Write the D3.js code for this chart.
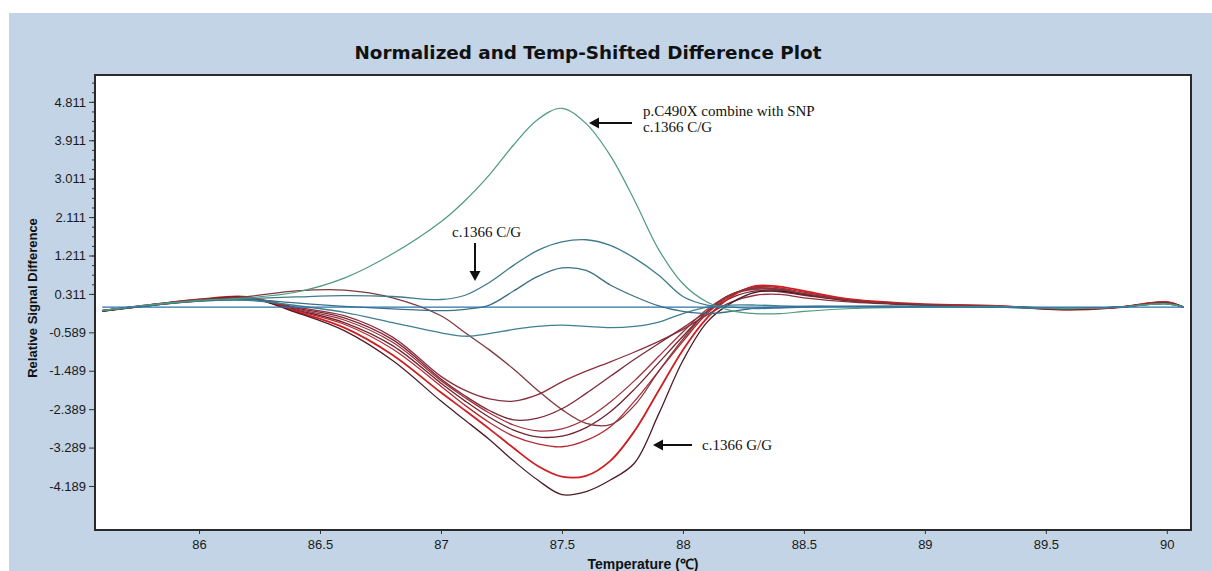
<!DOCTYPE html>
<html>

<head>
    <meta charset="UTF-8">
    <title>Normalized and Temp-Shifted Difference Plot</title>
    <script src="https://d3js.org/d3.v7.min.js"></script>
    <style>
        body { margin: 0; background: #fff; }
        svg { display: block; }
    </style>
</head>

<body>
    <svg id="chart"></svg>
    <script>
        // -------------data-------------
        var temps = [85.6, 85.8, 86.0, 86.2, 86.4, 86.6, 86.8, 87.0, 87.1, 87.2, 87.3, 87.4, 87.5, 87.6, 87.7,
            87.8, 87.9, 88.0, 88.1, 88.2, 88.3, 88.4, 88.5, 88.7, 89.0, 89.3, 89.6, 89.8, 90.0, 90.07];

        var reference = [0, 0, 0, 0, 0, 0, 0, 0, 0, 0, 0, 0, 0, 0, 0, 0, 0, 0, 0, 0, 0, 0, 0, 0, 0, 0, 0, 0, 0, 0];
        var snpCombined = [-0.08, 0.06, 0.16, 0.22, 0.35, 0.68, 1.25, 2.0, 2.5, 3.1, 3.8, 4.4, 4.66, 4.3, 3.55,
            2.5, 1.35, 0.55, 0.12, -0.08, -0.15, -0.15, -0.1, -0.03, 0.0, 0.02, -0.03, 0.0, 0.08, 0.0];
        var cgHigh = [-0.08, 0.05, 0.15, 0.2, 0.24, 0.27, 0.25, 0.18, 0.28, 0.58, 0.98, 1.33, 1.53, 1.58, 1.45,
            1.15, 0.75, 0.25, 0.05, 0.0, -0.03, -0.02, 0.0, 0.02, 0.02, 0.0, -0.03, 0.0, 0.08, 0.0];
        var cgLow = [-0.08, 0.05, 0.14, 0.18, 0.1, 0.02, -0.04, -0.08, -0.05, 0.05, 0.38, 0.72, 0.92, 0.86, 0.52,
            0.25, 0.03, -0.1, -0.15, -0.1, -0.02, 0.0, 0.02, 0.02, 0.02, 0.0, -0.03, 0.0, 0.08, 0.0];
        var cgNeg = [-0.08, 0.04, 0.14, 0.16, 0.04, -0.12, -0.36, -0.6, -0.68, -0.62, -0.52, -0.45, -0.42, -0.45, -0.48,
            -0.45, -0.35, -0.15, 0.0, 0.05, 0.05, 0.03, 0.02, 0.02, 0.02, 0.0, -0.03, 0.0, 0.08, 0.0];
        var crossing = [-0.08, 0.06, 0.18, 0.25, 0.38, 0.4, 0.22, -0.2, -0.6, -1.0, -1.45, -1.95, -2.4, -2.72, -2.75,
            -2.3, -1.5, -0.75, -0.1, 0.3, 0.45, 0.42, 0.32, 0.15, 0.06, 0.02, -0.04, 0.0, 0.1, 0.0];
        var gg1 = [-0.08, 0.05, 0.16, 0.22, 0.0, -0.2, -0.7, -1.62, -1.95, -2.15, -2.2, -2.05, -1.75, -1.5, -1.28,
            -1.05, -0.8, -0.52, -0.18, 0.12, 0.28, 0.3, 0.22, 0.12, 0.05, 0.02, -0.04, 0.0, 0.1, 0.0];
        var gg2 = [-0.09, 0.04, 0.15, 0.21, -0.02, -0.25, -0.76, -1.68, -2.08, -2.42, -2.64, -2.6, -2.38, -2.02, -1.62,
            -1.22, -0.85, -0.48, -0.1, 0.22, 0.38, 0.36, 0.28, 0.14, 0.06, 0.03, -0.05, -0.01, 0.12, 0.0];
        var gg3 = [-0.08, 0.05, 0.17, 0.23, -0.04, -0.3, -0.82, -1.72, -2.12, -2.48, -2.76, -2.9, -2.85, -2.62, -2.22,
            -1.72, -1.15, -0.58, -0.05, 0.3, 0.42, 0.4, 0.3, 0.15, 0.05, 0.02, -0.04, 0.0, 0.1, 0.0];
        var gg4 = [-0.1, 0.04, 0.16, 0.22, -0.06, -0.36, -0.9, -1.78, -2.2, -2.58, -2.88, -3.04, -3.02, -2.82, -2.45,
            -1.92, -1.3, -0.68, -0.1, 0.3, 0.45, 0.42, 0.32, 0.16, 0.06, 0.02, -0.05, 0.0, 0.12, 0.0];
        var gg5 = [-0.08, 0.06, 0.17, 0.22, -0.08, -0.4, -0.98, -1.85, -2.3, -2.7, -3.02, -3.2, -3.27, -3.12, -2.8,
            -2.2, -1.5, -0.8, -0.15, 0.28, 0.48, 0.45, 0.35, 0.17, 0.06, 0.03, -0.05, 0.0, 0.1, 0.0];
        var gg6 = [-0.08, 0.05, 0.18, 0.24, -0.1, -0.48, -1.12, -2.0, -2.42, -2.85, -3.3, -3.72, -3.97, -3.95, -3.6,
            -2.9, -1.95, -1.0, -0.25, 0.25, 0.5, 0.48, 0.38, 0.18, 0.07, 0.03, -0.06, 0.0, 0.12, 0.0];
        var gg7 = [-0.09, 0.05, 0.17, 0.23, -0.12, -0.55, -1.25, -2.2, -2.65, -3.1, -3.6, -4.05, -4.39, -4.32, -4.05,
            -3.65, -2.5, -1.25, -0.35, 0.1, 0.35, 0.38, 0.3, 0.15, 0.05, 0.02, -0.05, 0.0, 0.1, 0.0];

        var xTicks = [86, 86.5, 87, 87.5, 88, 88.5, 89, 89.5, 90];
        var yTickLabels = ["4.811", "3.911", "3.011", "2.111", "1.211", "0.311", "-0.589", "-1.489", "-2.389", "-3.289", "-4.189"];

        // draw order and colours
        var series = [
            { values: gg1, color: "#8c3040", width: 1.3 },
            { values: gg2, color: "#7a2a36", width: 1.3 },
            { values: gg3, color: "#a0303c", width: 1.3 },
            { values: gg4, color: "#6f2430", width: 1.3 },
            { values: gg5, color: "#b32a33", width: 1.3 },
            { values: gg6, color: "#cf1f22", width: 1.8 },
            { values: gg7, color: "#4d1c26", width: 1.3 },
            { values: crossing, color: "#7d3a3f", width: 1.3 },
            { values: cgNeg, color: "#3d7f93", width: 1.3 },
            { values: cgLow, color: "#3b6f86", width: 1.3 },
            { values: cgHigh, color: "#3f7a8e", width: 1.3 },
            { values: snpCombined, color: "#4e9a7c", width: 1.2 },
            { values: reference, color: "#2e72a6", width: 1.3 }
        ];

        // -------------layout-------------
        var W = 1212, H = 571;
        var plotL = 95, plotT = 75, plotR = 1191, plotB = 530;

        var svg = d3.select('#chart')
            .attr('width', W)
            .attr('height', H);

        svg.append('rect')
            .attr('x', 9).attr('y', 13)
            .attr('width', W - 9).attr('height', H - 13)
            .attr('fill', '#c2d4e6');

        svg.append('rect')
            .attr('x', plotL).attr('y', plotT)
            .attr('width', plotR - plotL).attr('height', plotB - plotT)
            .attr('fill', '#fff');

        var x = d3.scaleLinear().domain([85.57, 90.1]).range([plotL, plotR]);
        var y = d3.scaleLinear().domain([-5.22, 5.44]).range([plotB, plotT]);

        svg.append('clipPath').attr('id', 'clip')
            .append('rect')
            .attr('x', plotL).attr('y', plotT)
            .attr('width', plotR - plotL).attr('height', plotB - plotT);

        // -------------curves-------------
        var line = d3.line()
            .x(function (d, i) { return x(temps[i]); })
            .y(function (d) { return y(d); })
            .curve(d3.curveCatmullRom.alpha(0.5));

        svg.append('g')
            .attr('clip-path', 'url(#clip)')
            .selectAll('path')
            .data(series)
            .enter()
            .append('path')
            .attr('d', function (s) { return line(s.values); })
            .attr('fill', 'none')
            .attr('stroke', function (s) { return s.color; })
            .attr('stroke-width', function (s) { return s.width; })
            .attr('stroke-linejoin', 'round');

        // -------------axes-------------
        var yTicks = yTickLabels.map(Number);
        var yMinor = d3.range(-20, 4).map(function (k) { return 4.811 + k * 0.225; })
            .filter(function (v) { return v > -5.22 && v < 5.44; });

        var yMinorAxis = svg.append('g')
            .attr('transform', 'translate(' + plotL + ',0)')
            .call(d3.axisLeft(y).tickValues(yMinor).tickSize(3).tickFormat(''));
        yMinorAxis.select('.domain').remove();

        var yAxis = svg.append('g')
            .attr('transform', 'translate(' + plotL + ',0)')
            .call(d3.axisLeft(y).tickValues(yTicks).tickSize(6).tickPadding(3)
                .tickFormat(function (d, i) { return yTickLabels[i]; }));
        yAxis.select('.domain').remove();

        var xAxis = svg.append('g')
            .attr('transform', 'translate(0,' + plotB + ')')
            .call(d3.axisBottom(x).tickValues(xTicks).tickSize(4).tickPadding(6)
                .tickFormat(function (d) { return String(d); }));
        xAxis.select('.domain').remove();

        svg.selectAll('.tick line').attr('stroke', '#333');
        svg.selectAll('.tick text')
            .attr('fill', '#1a1a1a')
            .style('font-family', '"Liberation Sans", Arial, sans-serif')
            .style('font-size', '13px');

        // frame
        svg.append('rect')
            .attr('x', plotL).attr('y', plotT)
            .attr('width', plotR - plotL).attr('height', plotB - plotT)
            .attr('fill', 'none')
            .attr('stroke', '#2a2a2a')
            .attr('stroke-width', 2);

        // -------------titles-------------
        svg.append('text')
            .attr('x', 588).attr('y', 59)
            .attr('text-anchor', 'middle')
            .attr('textLength', 467)
            .attr('lengthAdjust', 'spacingAndGlyphs')
            .style('font-family', '"DejaVu Sans", Verdana, sans-serif')
            .style('font-weight', 'bold')
            .style('font-size', '17px')
            .attr('fill', '#111')
            .text('Normalized and Temp-Shifted Difference Plot');

        svg.append('text')
            .attr('x', 643).attr('y', 569)
            .attr('text-anchor', 'middle')
            .style('font-family', '"Liberation Sans", Arial, sans-serif')
            .style('font-weight', 'bold')
            .style('font-size', '14px')
            .attr('fill', '#111')
            .text('Temperature (\u2103)');

        svg.append('text')
            .attr('transform', 'translate(37,298) rotate(-90)')
            .attr('text-anchor', 'middle')
            .style('font-family', '"Liberation Sans", Arial, sans-serif')
            .style('font-weight', 'bold')
            .style('font-size', '13px')
            .attr('fill', '#111')
            .text('Relative Signal Difference');

        // -------------annotations-------------
        var serif = '"Liberation Serif", "Times New Roman", serif';

        function note(tx, ty, lines) {
            var t = svg.append('text')
                .attr('x', tx).attr('y', ty)
                .style('font-family', serif)
                .style('font-size', '15px')
                .attr('fill', '#111');
            lines.forEach(function (s, i) {
                t.append('tspan').attr('x', tx).attr('dy', i === 0 ? 0 : 16).text(s);
            });
        }

        function arrow(x1, y1, x2, y2) {
            var ang = Math.atan2(y2 - y1, x2 - x1);
            var len = 10, half = 5.5;
            var bx = x2 - len * Math.cos(ang), by = y2 - len * Math.sin(ang);
            svg.append('line')
                .attr('x1', x1).attr('y1', y1).attr('x2', bx).attr('y2', by)
                .attr('stroke', '#111').attr('stroke-width', 2);
            svg.append('path')
                .attr('d', 'M' + x2 + ',' + y2 +
                    'L' + (bx + half * Math.sin(ang)) + ',' + (by - half * Math.cos(ang)) +
                    'L' + (bx - half * Math.sin(ang)) + ',' + (by + half * Math.cos(ang)) + 'Z')
                .attr('fill', '#111');
        }

        note(643, 116, ['p.C490X combine with SNP', 'c.1366 C/G']);
        arrow(632, 123, 589, 123);

        note(452, 237, ['c.1366 C/G']);
        arrow(475, 243, 475, 281);

        note(702, 450, ['c.1366 G/G']);
        arrow(692, 445, 653, 445);
    </script>
</body>

</html>
